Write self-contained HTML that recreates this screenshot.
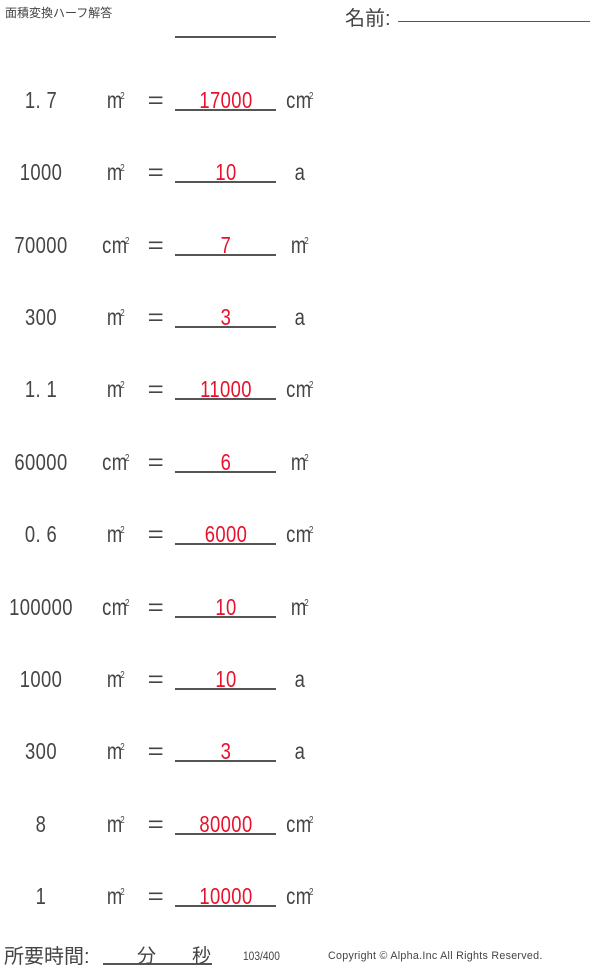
<!DOCTYPE html>
<html><head><meta charset="utf-8"><style>
body{margin:0;width:600px;height:967px;background:#fff;position:relative;overflow:hidden;font-family:"Liberation Sans","Noto Sans CJK JP",sans-serif;color:#444}
.t{position:absolute;width:140px;text-align:center;font-size:23px;line-height:30px;transform:scaleX(0.8);white-space:nowrap;letter-spacing:0.5px}
.r{color:#e8102a}
.e{transform:scaleX(1.2)}
.u{position:absolute;left:175px;width:101px;height:2px;background:#555}
sup{font-size:10px;vertical-align:top;position:relative;top:-3px;margin-left:-3px}
.j{position:absolute;white-space:nowrap}
</style></head><body>
<div class="j" style="left:5px;top:4px;font-size:12px;">面積変換ハーフ解答</div>
<div class="j" style="left:345px;top:2px;font-size:20px;">名前:</div>
<div class="j" style="left:398px;top:21px;width:192px;height:1px;background:#555"></div>
<div class="u" style="top:36px"></div>

<div id="rows"></div>
<script>
var d=[["1. 7","m","17000","cm"],["1000","m","10","a"],["70000","cm","7","m"],["300","m","3","a"],["1. 1","m","11000","cm"],["60000","cm","6","m"],["0. 6","m","6000","cm"],["100000","cm","10","m"],["1000","m","10","a"],["300","m","3","a"],["8","m","80000","cm"],["1","m","10000","cm"]];
var h="";
function un(s){return s=="a"?"a":s+"<sup>2</sup>";}
for(var i=0;i<12;i++){var y=Math.round(99+i*72.36)-14;var r=d[i];
h+='<div class="t" style="left:-29px;top:'+y+'px">'+r[0]+'</div>';
h+='<div class="t" style="left:46px;top:'+y+'px">'+un(r[1])+'</div>';
h+='<div class="t e" style="left:86px;top:'+y+'px">=</div>';
h+='<div class="t r" style="left:156px;top:'+y+'px">'+r[2]+'</div>';
h+='<div class="u" style="top:'+(y+24)+'px"></div>';
h+='<div class="t" style="left:'+(r[3]=="a"?230:230)+'px;top:'+y+'px">'+un(r[3])+'</div>';}
document.getElementById("rows").innerHTML=h;
</script>

<div class="j" style="left:4px;top:940px;font-size:20px;">所要時間:</div>
<div class="j" style="left:103px;top:963px;width:109px;height:2px;background:#555"></div>
<div class="j" style="left:137px;top:941px;font-size:19px;">分</div>
<div class="j" style="left:192px;top:941px;font-size:19px;">秒</div>
<div class="j" style="left:243px;top:949px;font-size:12px;transform:scaleX(0.85);transform-origin:left">103/400</div>
<div class="j" style="left:328px;top:950px;font-size:11px;letter-spacing:0.3px;transform:scaleX(0.97);transform-origin:left">Copyright © Alpha.Inc All Rights Reserved.</div>
</body></html>
